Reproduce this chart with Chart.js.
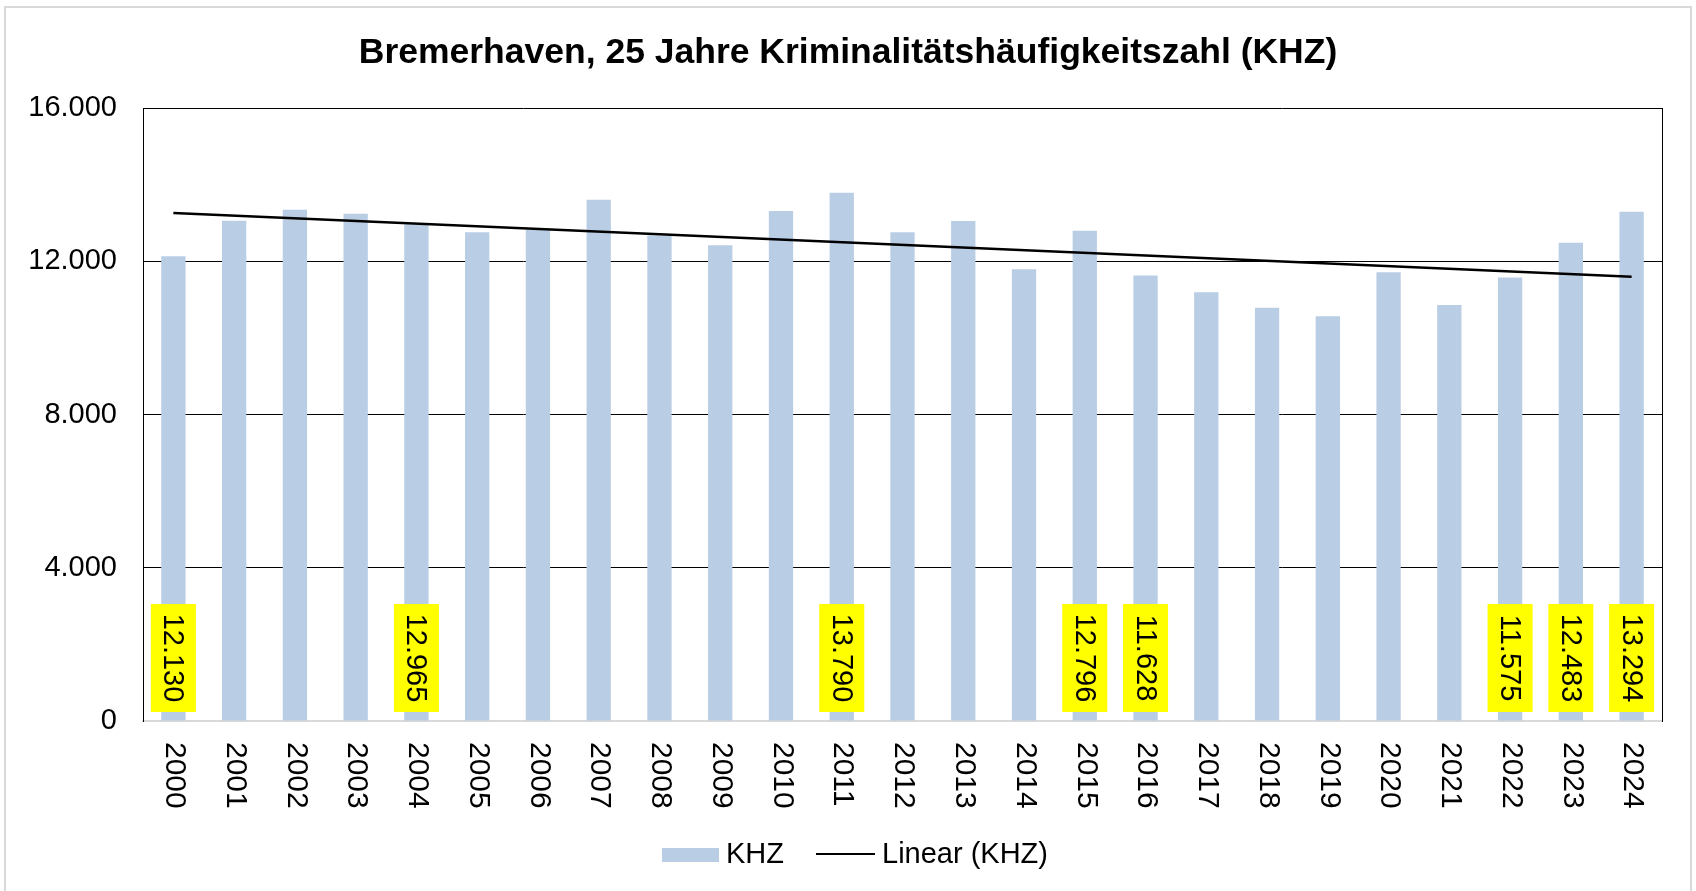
<!DOCTYPE html>
<html>
<head>
<meta charset="utf-8">
<script src="https://cdn.jsdelivr.net/npm/chart.js@4/dist/chart.umd.min.js"></script>
<style>
  html, body { margin: 0; padding: 0; background: #ffffff; }
  #c { display: block; }
</style>
</head>
<body>
<canvas id="c" width="1696" height="891"></canvas>
<script>
// ---- data ----
const years = ['2000','2001','2002','2003','2004','2005','2006','2007','2008','2009','2010','2011','2012',
               '2013','2014','2015','2016','2017','2018','2019','2020','2021','2022','2023','2024'];
const khz = [12130, 13058, 13346, 13241, 12965, 12755, 12820, 13607, 12670, 12416, 13311, 13790, 12755,
             13050, 11790, 12796, 11628, 11189, 10788, 10563, 11711, 10858, 11575, 12483, 13294];
// trend line endpoints
const trendKHZ = [13259, null, null, null, null, null, null, null, null, null, null, null, null,
                  null, null, null, null, null, null, null, null, null, null, null, 11597];
const labeledYears = ['2000','2004','2011','2015','2016','2022','2023','2024'];
const yTickValues = [0, 4000, 8000, 12000, 16000];
const titleText = 'Bremerhaven, 25 Jahre Kriminalitätshäufigkeitszahl (KHZ)';
const seriesName = 'KHZ';
const trendName = 'Linear (KHZ)';

const FONT = "'Liberation Sans', Arial, Helvetica, sans-serif";
const BAR_COLOR = '#B9CDE5';

function fmtDE(v) {
  return String(Math.round(v)).replace(/\B(?=(\d{3})+(?!\d))/g, '.');
}

Chart.defaults.font.family = FONT;
Chart.defaults.color = '#000000';

const decorPlugin = {
  id: 'decor',
  beforeDraw(chart) {
    const ctx = chart.ctx;
    ctx.save();
    ctx.fillStyle = '#ffffff';
    ctx.fillRect(0, 0, chart.width, chart.height);
    ctx.strokeStyle = '#D9D9D9';
    ctx.lineWidth = 2;
    ctx.strokeRect(5, 7, 1686, 1000);
    ctx.restore();
  },
  afterDatasetsDraw(chart) {
    const ctx = chart.ctx;
    const xs = chart.scales.x, ys = chart.scales.y;
    const area = chart.chartArea;
    ctx.save();

    // data labels (yellow boxes, rotated text)
    const base = ys.getPixelForValue(0);
    ctx.font = '29px ' + FONT;
    years.forEach((yr, i) => {
      if (!labeledYears.includes(yr)) return;
      const x = xs.getPixelForValue(i);
      const w = 45, h = 108;
      const bottom = base - 9;
      ctx.fillStyle = '#FFFF00';
      ctx.fillRect(x - w / 2, bottom - h, w, h);
      ctx.save();
      ctx.translate(x, bottom - h / 2);
      ctx.rotate(Math.PI / 2);
      ctx.fillStyle = '#000000';
      ctx.textAlign = 'center';
      ctx.textBaseline = 'middle';
      ctx.fillText(fmtDE(khz[i]), 0, 1);
      ctx.restore();
    });

    // x-axis labels rotated clockwise
    ctx.font = '30px ' + FONT;
    ctx.fillStyle = '#000000';
    years.forEach((yr, i) => {
      const x = xs.getPixelForValue(i);
      ctx.save();
      ctx.translate(x + 1, area.bottom + 21);
      ctx.rotate(Math.PI / 2);
      ctx.textAlign = 'left';
      ctx.textBaseline = 'middle';
      ctx.fillText(yr, 0, 0);
      ctx.restore();
    });

    // legend
    const ly = 855;
    let lx = 662;
    ctx.fillStyle = BAR_COLOR;
    ctx.fillRect(lx, ly - 7, 57, 14);
    lx += 57 + 7;
    ctx.font = '29px ' + FONT;
    ctx.fillStyle = '#000000';
    ctx.textAlign = 'left';
    ctx.textBaseline = 'middle';
    ctx.fillText(seriesName, lx, ly);
    lx += ctx.measureText(seriesName).width + 32;
    ctx.strokeStyle = '#000000';
    ctx.lineWidth = 2;
    ctx.beginPath();
    ctx.moveTo(lx, ly - 1);
    ctx.lineTo(lx + 59, ly - 1);
    ctx.stroke();
    lx += 59 + 7;
    ctx.fillText(trendName, lx, ly);
    ctx.restore();
  }
};

new Chart(document.getElementById('c'), {
  data: {
    labels: years,
    datasets: [
      {
        type: 'line',
        label: trendName,
        data: trendKHZ,
        borderColor: '#000000',
        borderWidth: 2.5,
        pointRadius: 0,
        spanGaps: true,
        fill: false,
        order: 0
      },
      {
        type: 'bar',
        label: seriesName,
        data: khz,
        backgroundColor: BAR_COLOR,
        borderWidth: 0,
        barPercentage: 0.4,
        categoryPercentage: 1.0,
        order: 1
      }
    ]
  },
  options: {
    responsive: false,
    animation: false,
    devicePixelRatio: 1,
    layout: { padding: 0 },
    plugins: {
      legend: { display: false },
      tooltip: { enabled: false },
      title: {
        display: true,
        text: titleText,
        color: '#000000',
        font: { size: 35.5, weight: 'bold', family: FONT, lineHeight: 1.2 },
        padding: { top: 32, bottom: 33.4 }
      }
    },
    scales: {
      x: {
        offset: true,
        grid: { display: false, drawTicks: false },
        border: { display: true, color: '#D9D9D9', width: 2 },
        ticks: { display: false },
        afterFit(scale) { scale.height = 170; }
      },
      y: {
        min: 0,
        max: 16000,
        afterBuildTicks(scale) { scale.ticks = yTickValues.map(v => ({ value: v })); },
        grid: {
          drawTicks: false,
          lineWidth: 1,
          color: (c) => (c.tick && c.tick.value === 0) ? 'rgba(0,0,0,0)' : '#000000'
        },
        border: { display: true, color: '#000000', width: 1 },
        ticks: {
          padding: 26,
          color: '#000000',
          font: { size: 29, family: FONT },
          callback: (v) => fmtDE(v)
        },
        afterFit(scale) { scale.width = 143; }
      },
      yRight: {
        position: 'right',
        min: 0,
        max: 16000,
        grid: { display: false, drawTicks: false },
        border: { display: true, color: '#000000', width: 1 },
        ticks: { display: false },
        afterFit(scale) { scale.width = 34; }
      }
    }
  },
  plugins: [decorPlugin]
});
</script>
</body>
</html>
